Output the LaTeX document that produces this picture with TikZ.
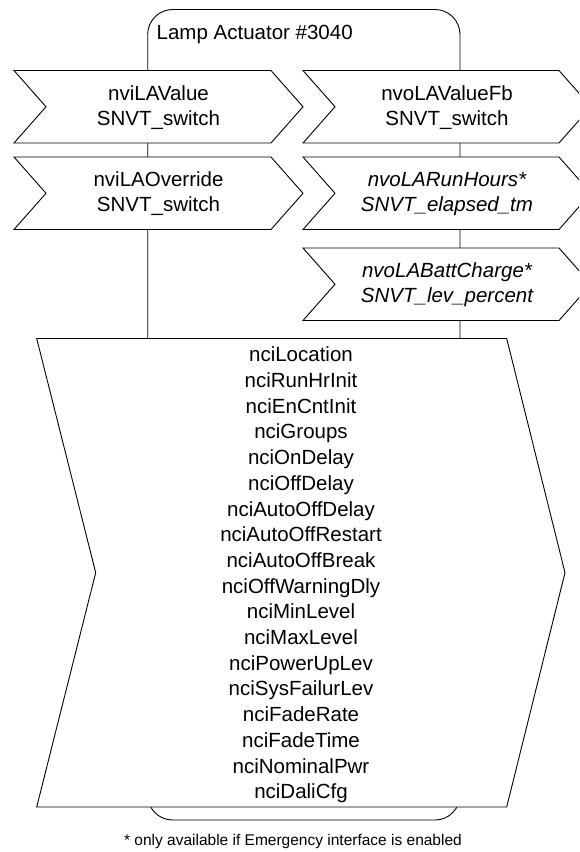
\documentclass[tikz,border=0pt]{standalone}
\usepackage{fontspec}
\setmainfont{Liberation Sans}
\newcommand\mainfs{\fontsize{20.5pt}{25pt}\selectfont}
\newcommand\listfs{\fontsize{20.5pt}{25.7pt}\selectfont}
\newcommand\notefs{\fontsize{15.5pt}{19pt}\selectfont}
\tikzset{
  devbox/.style={draw=black, line width=0.9pt, rounded corners=25pt, inner sep=0pt, outer sep=0pt},
  chev/.style={draw=black, line width=0.9pt, fill=white, line join=miter},
  lbl/.style={font=\mainfs, align=center, inner sep=0pt},
  ilbl/.style={lbl, font=\mainfs\itshape},
}
\begin{document}
\begin{tikzpicture}[x=1pt,y=-1pt]
\useasboundingbox (0,0) rectangle (579,852);
\clip (0,0) rectangle (579,852);
\fill[white] (0,0) rectangle (579,852);
% device outline
\node[devbox, minimum width=312.3pt, minimum height=810.5pt, anchor=north west] (device) at (147.7,9.5) {};
\node[anchor=base west, font=\mainfs, inner sep=0pt] (title) at (156.5,39.3) {Lamp Actuator \#3040};
% inputs (left column)
\draw[chev] (14,70.5) -- (271,70.5) -- (303,106.75) -- (271,143) -- (14,143) -- (46,106.75) -- cycle;
\node[lbl] (nviLAValue) at (158.5,107.5) {nviLAValue\\SNVT\_switch};
\draw[chev] (14,157) -- (271,157) -- (303,193.25) -- (271,229.5) -- (14,229.5) -- (46,193.25) -- cycle;
\node[lbl] (nviLAOverride) at (158.5,194) {nviLAOverride\\SNVT\_switch};
% outputs (right column)
\draw[chev] (303,70.5) -- (559,70.5) -- (591,106.75) -- (559,143) -- (303,143) -- (335,106.75) -- cycle;
\node[lbl] (nvoLAValueFb) at (447,107.5) {nvoLAValueFb\\SNVT\_switch};
\draw[chev] (303,157) -- (559,157) -- (591,193.25) -- (559,229.5) -- (303,229.5) -- (335,193.25) -- cycle;
\node[ilbl] (nvoLARunHours) at (447,194) {nvoLARunHours*\\SNVT\_elapsed\_tm};
\draw[chev] (303,248) -- (559,248) -- (591,284.25) -- (559,320.5) -- (303,320.5) -- (335,284.25) -- cycle;
\node[ilbl] (nvoLABattCharge) at (447,285) {nvoLABattCharge*\\SNVT\_lev\_percent};
% configuration properties
\draw[chev] (36.7,338.5) -- (506.7,338.5) -- (565,572.7) -- (506.7,807) -- (36.7,807) -- (95.7,572.7) -- cycle;
\node[lbl, font=\listfs] (nci) at (301,575) {nciLocation\\nciRunHrInit\\nciEnCntInit\\nciGroups\\nciOnDelay\\nciOffDelay\\nciAutoOffDelay\\nciAutoOffRestart\\nciAutoOffBreak\\nciOffWarningDly\\nciMinLevel\\nciMaxLevel\\nciPowerUpLev\\nciSysFailurLev\\nciFadeRate\\nciFadeTime\\nciNominalPwr\\nciDaliCfg};
% footnote
\node[anchor=base, font=\notefs, inner sep=0pt] (note) at (293,845) {* only available if Emergency interface is enabled};
\end{tikzpicture}
\end{document}
